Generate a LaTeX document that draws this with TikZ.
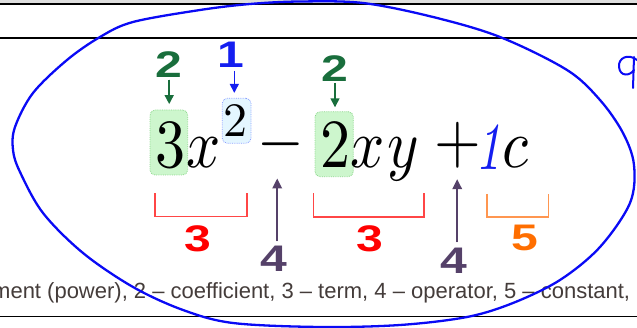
\documentclass[tikz,border=0pt]{standalone}
\usepackage{fontspec}
\usepackage{graphicx}
\newfontfamily\labfont{Liberation Sans}
\font\eqrm=cmr10 at 60pt
\font\eqmi=cmmi10 at 60pt
\font\eqsy=cmsy10 at 60pt
\font\eqsup=cmr10 at 48pt
\font\eqti=cmti10 at 56pt
\usetikzlibrary{arrows.meta}
\definecolor{gdark}{RGB}{25,110,60}
\definecolor{gfill}{RGB}{205,246,205}
\definecolor{gline}{RGB}{140,215,140}
\definecolor{bfill}{RGB}{228,246,255}
\definecolor{bline}{RGB}{140,160,255}
\definecolor{blab}{RGB}{20,30,240}
\definecolor{rlab}{RGB}{255,0,0}
\definecolor{rbr}{RGB}{255,70,70}
\definecolor{plab}{RGB}{85,65,105}
\definecolor{olab}{RGB}{255,110,0}
\definecolor{obr}{RGB}{255,150,80}
\definecolor{eblue}{RGB}{10,10,245}
\definecolor{captxt}{RGB}{68,60,58}
\definecolor{band}{RGB}{222,222,222}
\tikzset{
  eqg/.style={inner sep=0pt, anchor=base},
  eqo/.style={inner sep=0pt, anchor=center},
  lab/.style={inner sep=0pt, anchor=center, font=\labfont\bfseries\fontsize{37}{37}\selectfont},
  gbox/.style={fill=gfill, draw=gline, densely dotted, line width=0.8pt, rounded corners=5pt},
  bbox/.style={fill=bfill, draw=bline, densely dotted, line width=0.8pt, rounded corners=5pt},
  garrow/.style={draw=gdark, fill=gdark, line width=1.5pt, -{Triangle[length=9pt,width=9pt]}},
  barrow/.style={draw=blab, fill=blab, line width=1.5pt, -{Triangle[length=9pt,width=9pt]}},
  parrow/.style={draw=plab, fill=plab, line width=2pt, -{Triangle[length=10pt,width=9.5pt]}},
  brk/.style={line width=1.6pt},
}
\newcommand{\sx}[1]{\scalebox{1.3}[1]{#1}}
\newcommand{\sy}[1]{\scalebox{1}[1.15]{#1}}
\begin{document}
\begin{tikzpicture}[x=1pt,y=-1pt]
\useasboundingbox (0,0) rectangle (637,328);
\clip (0,0) rectangle (637,328);
% page frame lines
\fill[band] (0,0) rectangle (637,3.3);
\draw[line width=2pt] (0,4.4) -- (637,4.4);
\draw[line width=2pt] (0,38.3) -- (637,38.3);
\draw[line width=1pt] (0,317) -- (637,317);
% caption
\node[anchor=base west, inner sep=0pt, font=\labfont\fontsize{22}{22}\selectfont, text=captxt] (cap) at (-8,298.5)
  {ment (power), 2 – coefficient, 3 – term, 4 – operator, 5 – constant,};
% highlight boxes
\node[gbox, minimum width=37.7pt, minimum height=65pt, inner sep=0pt] (box3) at (168.85,142.5) {};
\node[gbox, minimum width=38.3pt, minimum height=65pt, inner sep=0pt] (box2) at (334.15,144.2) {};
\node[bbox, minimum width=28.7pt, minimum height=45pt, inner sep=0pt] (supbox) at (236.65,120.8) {};
% equation glyphs
\node[eqg] (e3) at (170.5,167.5) {\sy{\eqrm 3}};
\node[eqg] (ex1) at (203.5,167.5) {\sy{\eqmi x}};
\node[eqg] (e2s) at (235,136.3) {\eqsup 2};
\node[eqo] (minus) at (280.5,144.3) {\sy{\eqsy\char0}};
\node[eqg] (e2) at (335,167.5) {\sy{\eqrm 2}};
\node[eqg] (ex2) at (368,167.5) {\sy{\eqmi x}};
\node[eqg] (ey) at (402.5,167.5) {\sy{\eqmi y}};
\node[eqo] (plus) at (457.5,145) {\sy{\eqrm +}};
\node[eqg, text=blab] (e1) at (488,169.5) {\scalebox{0.9}[1.2]{\eqti 1}};
\node[eqg] (ec) at (515.5,167.5) {\sy{\eqmi c}};
% labels above
\node[lab, text=gdark] (g1) at (169.2,65) {\sx{2}};
\node[lab, text=blab] (b1) at (230.8,55) {\sx{1}};
\node[lab, text=gdark] (g2) at (335,68.3) {\sx{2}};
\draw[garrow, shorten <=1.5pt, shorten >=5.5pt] (g1.south) -- (g1.south |- box3.north);
\draw[barrow, shorten <=3pt, shorten >=5pt] ([xshift=3.5pt]b1.south) -- ([xshift=3.5pt]b1.south |- supbox.north);
\draw[garrow, shorten <=1.5pt, shorten >=4pt] (g2.south) -- (g2.south |- box2.north);
% brackets
\draw[rbr, brk] (155,193.3) -- (155,216.7) -- (246.7,216.7) -- (246.7,193.3);
\draw[rbr, brk] (313.3,193.3) -- (313.3,217.3) -- (424,217.3) -- (424,193.3);
\draw[obr, brk] (486.7,194) -- (486.7,217.3) -- (548.3,217.3) -- (548.3,194);
% labels below
\node[lab, text=rlab] (r1) at (198.3,239.2) {\sx{3}};
\node[lab, text=rlab] (r2) at (370,238.3) {\sx{3}};
\node[lab, text=plab] (p1) at (274.2,259.2) {\sx{4}};
\node[lab, text=plab] (p2) at (454.2,260.3) {\sx{4}};
\node[lab, text=olab] (o1) at (525,238.3) {\sx{5}};
\draw[parrow, shorten <=5pt, shorten >=11pt] ([xshift=3pt]p1.north) -- ([xshift=3pt]p1.north |- minus.south);
\draw[parrow, shorten <=5pt, shorten >=11pt] ([xshift=3pt]p2.north) -- ([xshift=3pt]p2.north |- plus.south);
% hand-drawn ellipse
\draw[eblue, line width=2.3pt, line join=round] plot[smooth cycle, tension=0.55] coordinates {
 (13,150) (15,127) (33,93) (67,60) (100,37) (133,22) (200,10) (250,4) (300,1.5)
 (363,3) (433,17) (500,37) (567,70) (600,100) (623,133) (634,165) (630,203)
 (600,247) (560,280) (513,303) (467,317) (400,325) (320,327) (233,323) (183,310)
 (133,287) (83,253) (43,213) (20,172)};
% handwritten q at the right edge
\draw[eblue, line width=2pt, line cap=round] (637,60) .. controls (628,53) and (618,58) .. (619,67) .. controls (620,77) and (630,76) .. (634,70);
\draw[eblue, line width=2pt, line cap=round] (634,57) -- (633,88);
\end{tikzpicture}
\end{document}
